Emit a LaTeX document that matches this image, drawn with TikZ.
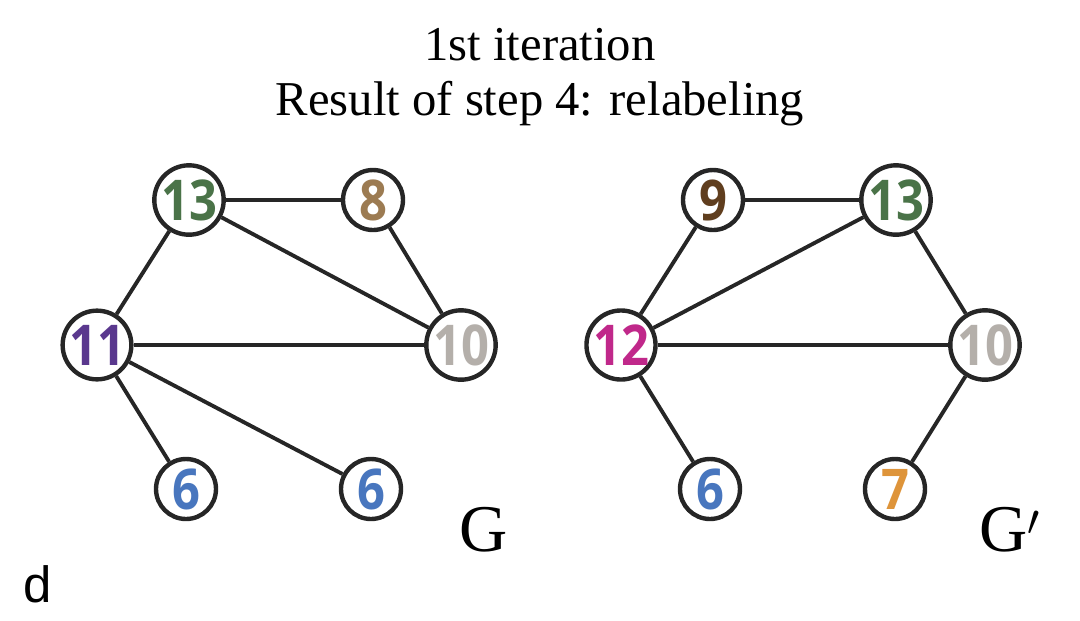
\documentclass[tikz,border=0pt]{standalone}
\usepackage{fontspec}
\setmainfont{Liberation Serif}
\newfontfamily\numfont{Open Sans}
\newfontfamily\labfont{Liberation Sans}
\usepackage{graphicx}
\usepackage{tikz}

\definecolor{cgreen}{RGB}{74,115,72}
\definecolor{ctan}{RGB}{156,123,82}
\definecolor{cpurple}{RGB}{90,56,142}
\definecolor{cgrey}{RGB}{180,175,170}
\definecolor{cblue}{RGB}{72,118,190}
\definecolor{cbrown}{RGB}{96,62,30}
\definecolor{cmagenta}{RGB}{192,40,138}
\definecolor{corange}{RGB}{222,148,58}

\newcommand{\num}[1]{\scalebox{0.87}[1]{#1}}

\tikzset{
  vert/.style={circle,draw=black!85,line width=2.5pt,fill=white,minimum size=1.2cm,inner sep=0pt,
    font=\numfont\bfseries\fontsize{32}{32}\selectfont,text=#1},
  edge/.style={line width=2.2pt,draw=black!85}
}

\begin{document}
\begin{tikzpicture}[x=0.02cm,y=-0.02cm]
\useasboundingbox (0,0) rectangle (1080,620);
% titles
\node (t1) at (540,45) {\fontsize{27.7}{27.7}\selectfont 1st iteration};
\node (t2) at (540,104) {\fontsize{27.7}{27.7}\selectfont Result of step 4: relabeling};
% graph G
\node[vert=cgreen]   (a13) at (189,200) {\num{13}};
\node[vert=ctan]     (a8)  at (373,200) {\num{8}};
\node[vert=cpurple]  (a11) at (97,345) {\num{11}};
\node[vert=cgrey]    (a10) at (461,345) {\num{10}};
\node[vert=cblue]    (a6)  at (186,489) {\num{6}};
\node[vert=cblue]    (b6)  at (371,489) {\num{6}};
\foreach \u/\v in {a13/a8,a13/a11,a13/a10,a8/a10,a11/a10,a11/a6,a11/b6}
  \draw[edge] (\u) -- (\v);
% graph G'
\node[vert=cbrown]   (c9)  at (713,200) {\num{9}};
\node[vert=cgreen]   (c13) at (896,200) {\num{13}};
\node[vert=cmagenta] (c12) at (621,345) {\num{12}};
\node[vert=cgrey]    (c10) at (985,345) {\num{10}};
\node[vert=cblue]    (c6)  at (710,489) {\num{6}};
\node[vert=corange]  (c7)  at (895,489) {\num{7}};
\foreach \u/\v in {c9/c13,c9/c12,c13/c12,c13/c10,c12/c10,c12/c6,c10/c7}
  \draw[edge] (\u) -- (\v);
% names
\node (gG)  at (484,530) {\fontsize{38}{38}\selectfont G};
\node (gGp) at (1010,530) {\fontsize{38}{38}\selectfont G$'$};
\node (lab) at (38,584) {\labfont\fontsize{29}{29}\selectfont d};
\end{tikzpicture}
\end{document}
